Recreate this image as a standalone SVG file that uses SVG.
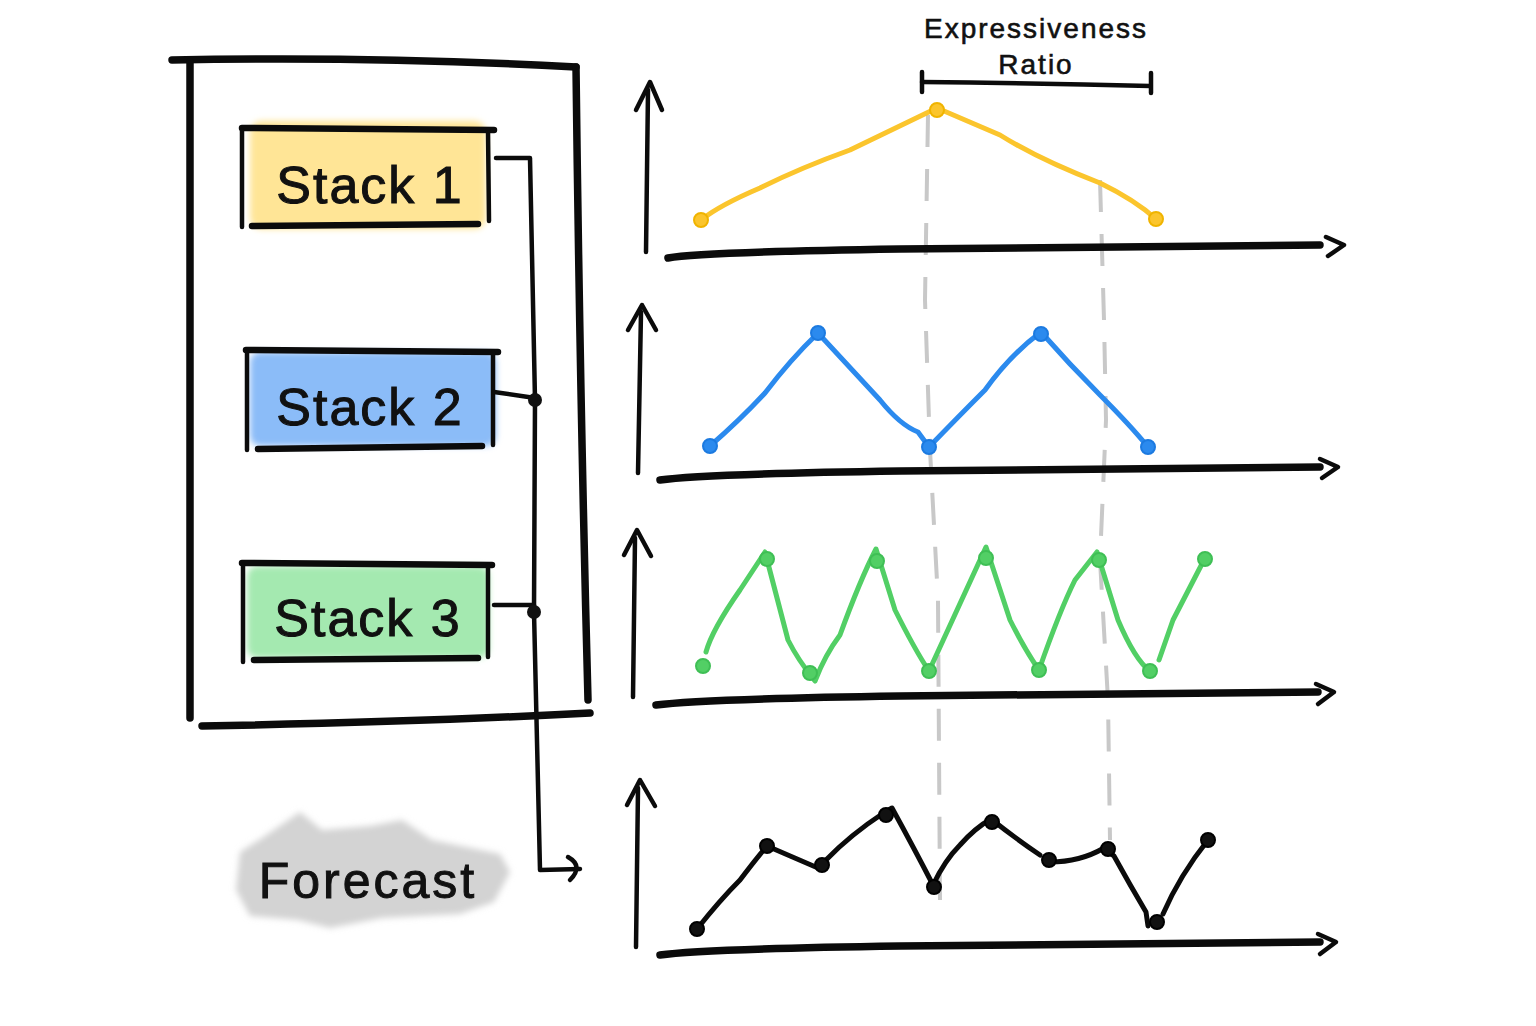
<svg xmlns="http://www.w3.org/2000/svg" width="1536" height="1026" viewBox="0 0 1536 1026">
<style>
.ink{fill:none;stroke:#0b0b0b;stroke-linecap:round;stroke-linejoin:round}
.thick{stroke-width:6.5}
.outer{stroke-width:7.5}
.med{stroke-width:4.5}
.axis{stroke-width:7.5}
.yax{stroke-width:4.5}
.lbl{font-family:"Liberation Sans","DejaVu Sans",sans-serif;fill:#111;text-anchor:middle;stroke:#111}
.big{font-size:52px;letter-spacing:2px;stroke-width:1}
.small{font-size:28px;letter-spacing:2px;stroke-width:0.6}
.dash{fill:none;stroke:#c8c8c8;stroke-width:4;stroke-dasharray:32 22;stroke-linecap:butt}
.series{fill:none;stroke-width:5;stroke-linecap:round;stroke-linejoin:round}
.pt{stroke-width:2}
</style>
<defs>
<filter id="soft" x="-10%" y="-20%" width="120%" height="140%"><feGaussianBlur stdDeviation="3"/></filter>
</defs>

<g id="guides">
<path class="dash" d="M928,115 L925,300 L930,450 L938,600 L940,900"/>
<path class="dash" d="M1100,180 L1104,320 L1106,420 L1100,560 L1108,700 L1110,840"/>
</g>

<g id="container">
<path class="ink outer" d="M172,60 Q380,56 576,67"/>
<path class="ink outer" d="M190,62 L190,718"/>
<path class="ink outer" d="M576,67 Q580,400 588,700"/>
<path class="ink outer" d="M202,726 Q420,722 590,713"/>
</g>

<g id="stack1">
<rect x="250" y="121" width="236" height="108" rx="12" fill="#ffe596" filter="url(#soft)"/>
<path class="ink thick" d="M242,128 L494,130"/>
<path class="ink med" d="M242,130 L242,227"/>
<path class="ink med" d="M488,130 L489,221"/>
<path class="ink thick" d="M252,226 L478,224"/>
<text class="lbl big" x="370" y="203">Stack 1</text>
</g>

<g id="stack2">
<rect x="250" y="352" width="246" height="94" rx="10" fill="#8bbcf8" filter="url(#soft)"/>
<path class="ink thick" d="M246,350 L498,352"/>
<path class="ink med" d="M247,351 L247,450"/>
<path class="ink med" d="M493,352 L493,445"/>
<path class="ink thick" d="M258,449 L482,446"/>
<text class="lbl big" x="370" y="425">Stack 2</text>
</g>

<g id="stack3">
<rect x="247" y="566" width="242" height="92" rx="10" fill="#a4e9b0" filter="url(#soft)"/>
<path class="ink thick" d="M242,563 L492,565"/>
<path class="ink med" d="M243,565 L243,662"/>
<path class="ink med" d="M488,565 L488,657"/>
<path class="ink thick" d="M254,660 L478,658"/>
<text class="lbl big" x="368" y="636">Stack 3</text>
</g>

<g id="forecast">
<path d="M240,852 L262,838 L300,812 L322,830 L370,826 L402,820 L432,840 L500,854 L510,872 L494,902 L460,914 L382,918 L330,928 L298,920 L250,916 L236,890 Z" fill="#d3d3d3" filter="url(#soft)"/>
<text class="lbl" x="368" y="898" style="font-size:50px;letter-spacing:3px;stroke-width:1">Forecast</text>
</g>

<g id="ratio">
<text class="lbl small" x="1036" y="38">Expressiveness</text>
<text class="lbl small" x="1036" y="74">Ratio</text>
<path class="ink med" d="M922,82 Q1040,83 1150,86"/>
<path class="ink med" d="M922,72 L922,92"/>
<path class="ink med" d="M1151,73 L1151,93"/>
</g>

<g id="connectors">
<path class="ink med" d="M496,158 L530,158 L535,400 L534,612 L540,870 L580,869"/>
<path class="ink med" d="M568,857 Q584,866 570,880"/>
<path class="ink med" d="M494,392 Q515,395 535,398"/>
<path class="ink med" d="M494,605 L534,605"/>
<circle cx="535" cy="400" r="7" fill="#111"/>
<circle cx="534" cy="612" r="7" fill="#111"/>
</g>

<g id="chart1">
<path class="ink yax" d="M646,252 L648,90"/>
<path class="ink yax" d="M636,110 L650,82 L662,110"/>
<path class="ink axis" d="M668,258 Q700,252 900,249 L1320,245"/>
<path class="ink med" d="M1326,237 L1344,245 L1328,256"/>
<path class="series" stroke="#fbc52d" d="M701,220 Q720,205 760,188 Q800,168 850,150 Q900,126 937,108 Q960,118 1000,135 Q1040,160 1100,183 Q1135,200 1156,219"/>
<g fill="#fbc52d" stroke="#f0b400" class="pt">
<circle cx="701" cy="220" r="7"/><circle cx="937" cy="110" r="7"/><circle cx="1156" cy="219" r="7"/>
</g>
</g>

<g id="chart2">
<path class="ink yax" d="M638,473 L641,312"/>
<path class="ink yax" d="M628,330 L642,305 L656,330"/>
<path class="ink axis" d="M660,480 Q700,474 900,471 L1320,467"/>
<path class="ink med" d="M1320,459 L1338,467 L1322,478"/>
<path class="series" stroke="#2b8aee" d="M710,446 Q740,420 765,393 Q790,360 818,333 L880,400 Q900,425 918,432 L929,447 Q960,415 985,390 Q1010,355 1041,332 Q1070,365 1100,395 Q1130,425 1148,447"/>
<g fill="#2b8aee" stroke="#1c7ae0" class="pt">
<circle cx="710" cy="446" r="7"/><circle cx="818" cy="333" r="7"/><circle cx="929" cy="447" r="7"/><circle cx="1041" cy="334" r="7"/><circle cx="1148" cy="447" r="7"/>
</g>
</g>

<g id="chart3">
<path class="ink yax" d="M633,697 L635,538"/>
<path class="ink yax" d="M624,555 L637,530 L651,556"/>
<path class="ink axis" d="M656,705 Q700,699 900,696 L1318,692"/>
<path class="ink med" d="M1316,684 L1334,692 L1318,704"/>
<path class="series" stroke="#52cf65" d="M706,652 Q712,630 740,590 L765,552 L788,640 Q798,660 815,681 Q825,655 840,635 Q860,580 876,549 L895,610 Q915,650 929,671 L986,547 L1010,620 Q1025,650 1039,670 Q1060,610 1075,580 L1097,552 L1118,620 Q1135,660 1150,671 M1159,660 L1173,620 L1205,558"/>
<g fill="#52cf65" stroke="#3fbf55" class="pt">
<circle cx="703" cy="666" r="7"/><circle cx="767" cy="559" r="7"/><circle cx="810" cy="673" r="7"/><circle cx="877" cy="561" r="7"/><circle cx="929" cy="671" r="7"/><circle cx="986" cy="558" r="7"/><circle cx="1039" cy="670" r="7"/><circle cx="1099" cy="560" r="7"/><circle cx="1150" cy="671" r="7"/><circle cx="1205" cy="559" r="7"/>
</g>
</g>

<g id="chart4">
<path class="ink yax" d="M636,947 L638,788"/>
<path class="ink yax" d="M627,805 L640,780 L655,806"/>
<path class="ink axis" d="M660,955 Q700,949 900,946 L1320,942"/>
<path class="ink med" d="M1318,934 L1336,942 L1320,954"/>
<path class="series" stroke="#0b0b0b" d="M697,929 Q720,900 740,880 Q755,860 767,846 Q795,858 818,868 M826,860 Q850,835 885,812 L892,808 Q915,850 933,885 Q945,860 960,845 Q975,828 991,819 Q1015,838 1040,855 M1050,862 Q1080,862 1104,848 L1114,856 Q1130,885 1146,912 L1148,926 M1163,914 Q1180,875 1208,840"/>
<g fill="#111" stroke="#000" class="pt">
<circle cx="697" cy="929" r="7"/><circle cx="767" cy="846" r="7"/><circle cx="822" cy="865" r="7"/><circle cx="886" cy="815" r="7"/><circle cx="934" cy="887" r="7"/><circle cx="992" cy="822" r="7"/><circle cx="1049" cy="860" r="7"/><circle cx="1108" cy="849" r="7"/><circle cx="1157" cy="922" r="7"/><circle cx="1208" cy="840" r="7"/>
</g>
</g>
</svg>
